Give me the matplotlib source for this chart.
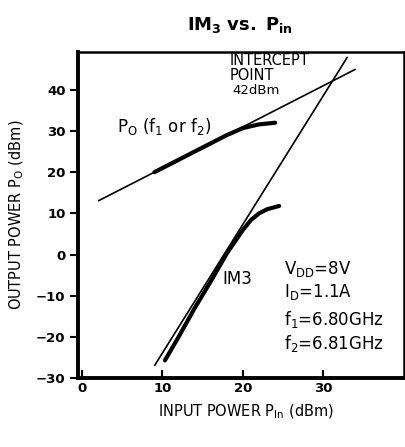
import matplotlib
matplotlib.use("Agg")
import matplotlib.pyplot as plt

# Extrapolated lines
po_line_x = [2, 34]
po_line_y = [13, 45]
im3_line_x = [9, 33]
im3_line_y = [-27, 48]

# Measured curves
po_x = [9, 12, 15, 18, 20, 22, 24]
po_y = [20, 23, 26, 29, 30.7, 31.6, 32.0]
im3_x = [10.3, 12, 14, 16, 18, 20, 21, 22, 23, 24.5]
im3_y = [-25.7, -20, -13, -6.5, 0.3, 6.0, 8.4, 10.0, 11.0, 11.8]

xticks = [0, 10, 20, 30]
yticks = [-30, -20, -10, 0, 10, 20, 30, 40]

fig = plt.figure(figsize=(4.06, 4.47), dpi=100)
ax = fig.add_axes([0.192, 0.154, 0.803, 0.730])

ax.plot(po_line_x, po_line_y, color="black", lw=1.2, solid_capstyle="butt")
ax.plot(im3_line_x, im3_line_y, color="black", lw=1.2, solid_capstyle="butt")
ax.plot(po_x, po_y, color="black", lw=3.0, solid_capstyle="round")
ax.plot(im3_x, im3_y, color="black", lw=3.0, solid_capstyle="round")

ax.set_xlim(-0.5, 40)
ax.set_ylim(-30, 49.2)
ax.set_xticks(xticks)
ax.set_yticks(yticks)
ax.set_xticklabels([str(t) for t in xticks], fontsize=9.5, fontweight="bold")
ax.set_yticklabels([str(t).replace("-", "\u2212") for t in yticks], fontsize=9.5, fontweight="bold")
ax.tick_params(axis="x", direction="in", length=6, width=1.5, pad=3)
ax.tick_params(axis="y", direction="out", length=6, width=1.5, pad=3)

for side, w in [("left", 2.8), ("bottom", 2.8), ("top", 1.8), ("right", 1.8)]:
    ax.spines[side].set_linewidth(w)

fig.text(0.59, 0.945, r"$\mathbf{IM_3}$ $\mathbf{vs.}$ $\mathbf{P_{in}}$", ha="center", va="center", fontsize=13)

fig.text(0.605, 0.078, r"INPUT POWER P$_{\mathrm{In}}$ (dBm)", fontsize=10.5, ha="center", va="center")
fig.text(0.042, 0.52, r"OUTPUT POWER P$_{\mathrm{O}}$ (dBm)", fontsize=10.5, ha="center", va="center", rotation=90)

ax.text(18.4, 47.1, "INTERCEPT", fontsize=10.5, va="center", ha="left")
ax.text(18.4, 43.5, "POINT", fontsize=10.5, va="center", ha="left")
ax.text(18.7, 39.9, "42dBm", fontsize=9.5, va="center", ha="left")
ax.text(4.4, 31.0, r"P$_{\mathrm{O}}$ (f$_1$ or f$_2$)", fontsize=12, va="center", ha="left")
ax.text(17.4, -5.9, "IM3", fontsize=12, va="center", ha="left")
ax.text(25.1, -3.5, r"V$_{\mathrm{DD}}$=8V", fontsize=12, va="center", ha="left")
ax.text(25.1, -9.1, r"I$_{\mathrm{D}}$=1.1A", fontsize=12, va="center", ha="left")
ax.text(25.1, -15.8, r"f$_1$=6.80GHz", fontsize=12, va="center", ha="left")
ax.text(25.1, -21.5, r"f$_2$=6.81GHz", fontsize=12, va="center", ha="left")

fig.savefig("out.png", dpi=100)
